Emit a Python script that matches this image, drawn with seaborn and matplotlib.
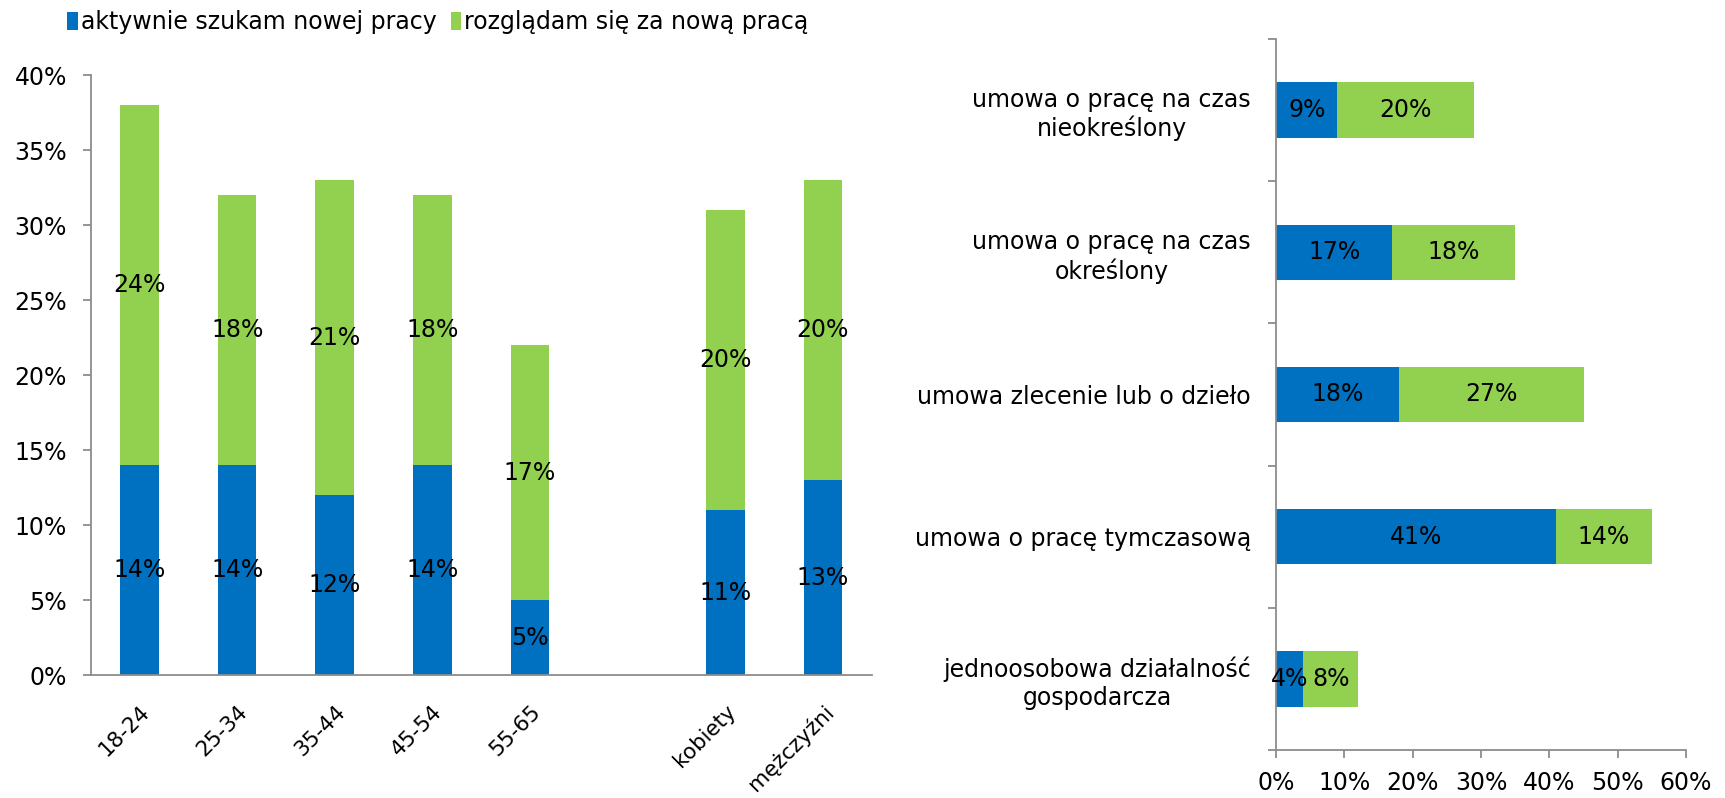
import numpy as np
import pandas as pd
import matplotlib
matplotlib.use("Agg")
import matplotlib.pyplot as plt
import seaborn as sns
from matplotlib.patches import Patch

# ---- data ----
age_cats = ["18-24", "25-34", "35-44", "45-54", "55-65", " ", "kobiety", "mężczyźni"]
left_active = [14, 14, 12, 14, 5, None, 11, 13]
left_looking = [24, 18, 21, 18, 17, None, 20, 20]
left_yticks = [0, 5, 10, 15, 20, 25, 30, 35, 40]

contract_cats = ["umowa o pracę na czas\nnieokreślony",
                 "umowa o pracę na czas\nokreślony",
                 "umowa zlecenie lub o dzieło",
                 "umowa o pracę tymczasową",
                 "jednoosobowa działalność\ngospodarcza"]
right_active = [9, 17, 18, 41, 4]
right_looking = [20, 18, 27, 14, 8]
right_xticks = [0, 10, 20, 30, 40, 50, 60]

series_names = ["aktywnie szukam nowej pracy", "rozglądam się za nową pracą"]
BLUE = "#0070C0"
GREEN = "#92D050"
GRAY = "#8c8c8c"

sns.set_theme(style="white")
plt.rcParams["font.family"] = ["DejaVu Sans"]
plt.rcParams["text.color"] = "black"
plt.rcParams["xtick.labelcolor"] = "black"
plt.rcParams["ytick.labelcolor"] = "black"

fig = plt.figure(figsize=(17.25, 7.98), dpi=100)
axL = fig.add_axes([0.0526, 0.1541, 0.4527, 0.7519])
axR = fig.add_axes([0.7397, 0.0602, 0.2377, 0.8909])

FS = 17

# ---- left chart ----
dfL = pd.DataFrame({"cat": age_cats, "active": left_active, "looking": left_looking}).dropna()
dfL["total"] = dfL["active"] + dfL["looking"]
sns.barplot(data=dfL, x="cat", y="total", order=age_cats, color=GREEN, saturation=1,
            width=0.395, errorbar=None, linewidth=0, ax=axL)
sns.barplot(data=dfL, x="cat", y="active", order=age_cats, color=BLUE, saturation=1,
            width=0.395, errorbar=None, linewidth=0, ax=axL)
for _, r in dfL.iterrows():
    i = age_cats.index(r["cat"])
    axL.text(i, r["active"] / 2, f"{int(r['active'])}%", ha="center", va="center", fontsize=FS, color="black")
    axL.text(i, r["active"] + r["looking"] / 2, f"{int(r['looking'])}%", ha="center", va="center", fontsize=FS, color="black")

axL.set_xlim(-0.5, len(age_cats) - 0.5)
axL.set_ylim(0, 40)
axL.set_yticks(left_yticks)
axL.set_yticklabels([f"{v}%" for v in left_yticks], fontsize=FS)
axL.set_xticks(range(len(age_cats)))
axL.set_xticklabels(age_cats, rotation=45, ha="right", rotation_mode="anchor", fontsize=15.5)
axL.set_xticks(np.arange(-0.5, len(age_cats)), minor=True)
axL.tick_params(axis="x", which="major", length=0, pad=19)
axL.tick_params(axis="x", which="minor", length=6, width=1.3, color=GRAY, direction="out")
axL.tick_params(axis="y", which="major", length=6, width=1.3, color=GRAY, direction="out", pad=11, left=True)
axL.set_xlabel("")
axL.set_ylabel("")
for s in ["top", "right"]:
    axL.spines[s].set_visible(False)
for s in ["left", "bottom"]:
    axL.spines[s].set_color(GRAY)
    axL.spines[s].set_linewidth(1.3)

# ---- right chart ----
dfR = pd.DataFrame({"cat": contract_cats, "active": right_active, "looking": right_looking})
dfR["total"] = dfR["active"] + dfR["looking"]
sns.barplot(data=dfR, y="cat", x="total", order=contract_cats, orient="h", color=GREEN, saturation=1,
            width=0.39, errorbar=None, linewidth=0, ax=axR)
sns.barplot(data=dfR, y="cat", x="active", order=contract_cats, orient="h", color=BLUE, saturation=1,
            width=0.39, errorbar=None, linewidth=0, ax=axR)
for i, r in dfR.iterrows():
    axR.text(r["active"] / 2, i, f"{int(r['active'])}%", ha="center", va="center", fontsize=FS, color="black")
    axR.text(r["active"] + r["looking"] / 2, i, f"{int(r['looking'])}%", ha="center", va="center", fontsize=FS, color="black")

axR.set_xlim(0, 60)
axR.set_ylim(len(contract_cats) - 0.5, -0.5)
axR.set_xticks(right_xticks)
axR.set_xticklabels([f"{v}%" for v in right_xticks], fontsize=FS)
axR.set_yticks(range(len(contract_cats)))
axR.set_yticklabels(contract_cats, fontsize=FS, ha="right", multialignment="center")
axR.set_yticks(np.arange(-0.5, len(contract_cats)), minor=True)
axR.tick_params(axis="y", which="major", length=0, pad=18)
axR.tick_params(axis="y", which="minor", length=6, width=1.3, color=GRAY, direction="out", left=True)
axR.tick_params(axis="x", which="major", length=6, width=1.3, color=GRAY, direction="out", pad=9, bottom=True)
axR.set_xlabel("")
axR.set_ylabel("")
for s in ["top", "right"]:
    axR.spines[s].set_visible(False)
for s in ["left", "bottom"]:
    axR.spines[s].set_color(GRAY)
    axR.spines[s].set_linewidth(1.3)

# ---- legend ----
handles = [Patch(facecolor=BLUE, edgecolor="none"), Patch(facecolor=GREEN, edgecolor="none")]
fig.legend(handles, series_names, loc="center left", bbox_to_anchor=(0.039, 0.972), ncol=2,
           frameon=False, fontsize=17, handlelength=0.45, handleheight=0.8, handletextpad=0.12,
           columnspacing=0.6, borderaxespad=0, borderpad=0)

fig.savefig("out.png", dpi=100)
